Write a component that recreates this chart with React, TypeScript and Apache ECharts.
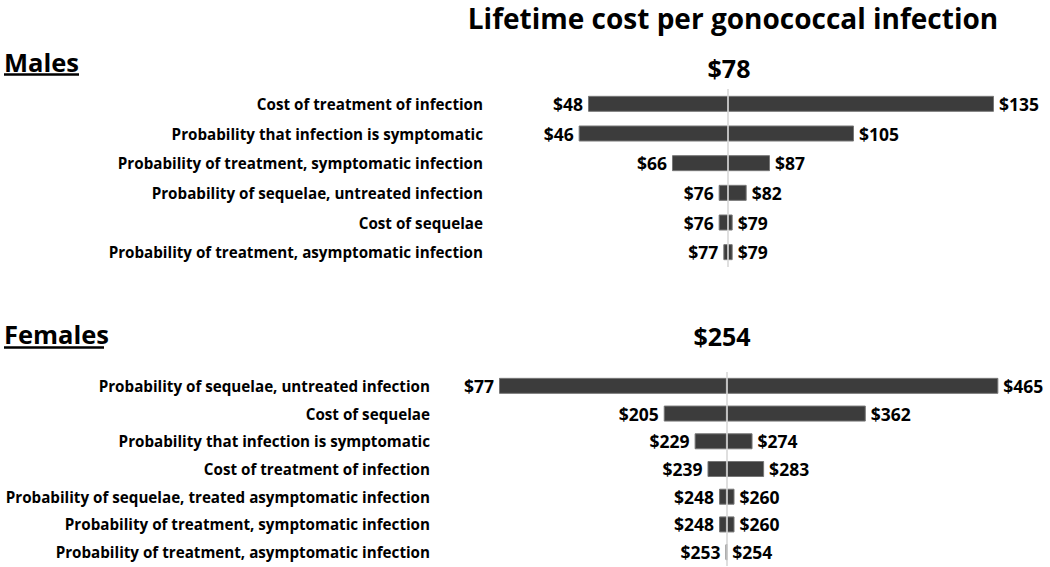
import React, { useEffect, useRef } from "react";
import * as echarts from "echarts";

const titleText = "Lifetime cost per gonococcal infection";

const malesCategories = [
  "Cost of treatment of infection",
  "Probability that infection is symptomatic",
  "Probability of treatment, symptomatic infection",
  "Probability of sequelae, untreated infection",
  "Cost of sequelae",
  "Probability of treatment, asymptomatic infection",
];
const malesLow = [48, 46, 66, 76, 76, 77];
const malesHigh = [135, 105, 87, 82, 79, 79];
const malesBase = 78;

const femalesCategories = [
  "Probability of sequelae, untreated infection",
  "Cost of sequelae",
  "Probability that infection is symptomatic",
  "Cost of treatment of infection",
  "Probability of sequelae, treated asymptomatic infection",
  "Probability of treatment, symptomatic infection",
  "Probability of treatment, asymptomatic infection",
];
const femalesLow = [77, 205, 229, 239, 248, 248, 253];
const femalesHigh = [465, 362, 274, 283, 260, 260, 254];
const femalesBase = 254;

const FONT = "'Open Sans'";
const BAR_COLOR = "#3c3c3c";

function panelSeries(
  idx: number,
  low: number[],
  high: number[],
  base: number
): any[] {
  const stack = "s" + idx;
  const label = {
    show: true,
    fontFamily: FONT,
    fontWeight: "bold",
    fontSize: 17.5,
    color: "#000",
    distance: 5,
  };
  const barStyle = { color: BAR_COLOR, borderColor: "#777", borderWidth: 1 };
  return [
    {
      type: "bar",
      xAxisIndex: idx,
      yAxisIndex: idx,
      stack,
      barWidth: 16,
      silent: true,
      itemStyle: { color: "transparent" },
      data: low.map((v) => v),
    },
    {
      type: "bar",
      xAxisIndex: idx,
      yAxisIndex: idx,
      stack,
      barWidth: 16,
      itemStyle: barStyle,
      label: {
        ...label,
        position: "left",
        formatter: (p: any) => "$" + low[p.dataIndex],
      },
      data: low.map((v) => base - v),
    },
    {
      type: "bar",
      xAxisIndex: idx,
      yAxisIndex: idx,
      stack,
      barWidth: 16,
      itemStyle: barStyle,
      label: {
        ...label,
        position: "right",
        formatter: (p: any) => "$" + high[p.dataIndex],
      },
      data: high.map((v) => v - base),
      markLine: {
        silent: true,
        symbol: "none",
        label: { show: false },
        lineStyle: { color: "#d4d4d4", width: 1.5, type: "solid" },
        data: [{ xAxis: base }],
        z: 10,
      },
    },
  ];
}

function headingText(
  text: string,
  x: number,
  y: number,
  size: number,
  align: string,
  vAlign: string = "middle"
) {
  return {
    type: "text",
    x,
    y,
    style: {
      text,
      fontFamily: FONT,
      fontWeight: "bold",
      fontSize: size,
      fill: "#000",
      align,
      verticalAlign: vAlign,
    },
  };
}

export default function App() {
  const ref = useRef<HTMLDivElement>(null);
  useEffect(() => {
    if (!ref.current) return;
    const chart = echarts.init(ref.current, null, { renderer: "svg" });
    const yLabel = {
      fontFamily: FONT,
      fontWeight: "bold",
      fontSize: 15.2,
      color: "#000",
    };
    const option: any = {
      animation: false,
      backgroundColor: "#fff",
      grid: [
        { left: 499, width: 500, top: 89, height: 178, outerBoundsMode: "none" },
        { left: 499, width: 500, top: 372, height: 194, outerBoundsMode: "none" },
      ],
      xAxis: [
        { type: "value", gridIndex: 0, min: 28.93, max: 136.07, show: false },
        { type: "value", gridIndex: 1, min: 77, max: 465.5, show: false },
      ],
      yAxis: [
        {
          type: "category",
          gridIndex: 0,
          inverse: true,
          data: malesCategories,
          axisLine: { show: false },
          axisTick: { show: false },
          splitLine: { show: false },
          axisLabel: { ...yLabel, margin: 16 },
        },
        {
          type: "category",
          gridIndex: 1,
          inverse: true,
          data: femalesCategories,
          axisLine: { show: false },
          axisTick: { show: false },
          splitLine: { show: false },
          axisLabel: { ...yLabel, margin: 69 },
        },
      ],
      series: [
        ...panelSeries(0, malesLow, malesHigh, malesBase),
        ...panelSeries(1, femalesLow, femalesHigh, femalesBase),
      ],
      graphic: [
        headingText(titleText, 733, 4, 28, "center", "top"),
        headingText("Males", 4, 62, 25.5, "left"),
        {
          type: "line",
          shape: { x1: 4, y1: 74.5, x2: 79, y2: 74.5 },
          style: { stroke: "#000", lineWidth: 2.5 },
        },
        headingText("$" + malesBase, 729, 68, 25, "center"),
        headingText("Females", 4, 334, 25.5, "left"),
        {
          type: "line",
          shape: { x1: 4, y1: 347.5, x2: 104, y2: 347.5 },
          style: { stroke: "#000", lineWidth: 2.5 },
        },
        headingText("$" + femalesBase, 722, 336, 25, "center"),
      ],
    };
    chart.setOption(option);
    return () => chart.dispose();
  }, []);
  return (
    <div
      ref={ref}
      style={{ position: "fixed", left: 0, top: 0, width: 1050, height: 567 }}
    />
  );
}
